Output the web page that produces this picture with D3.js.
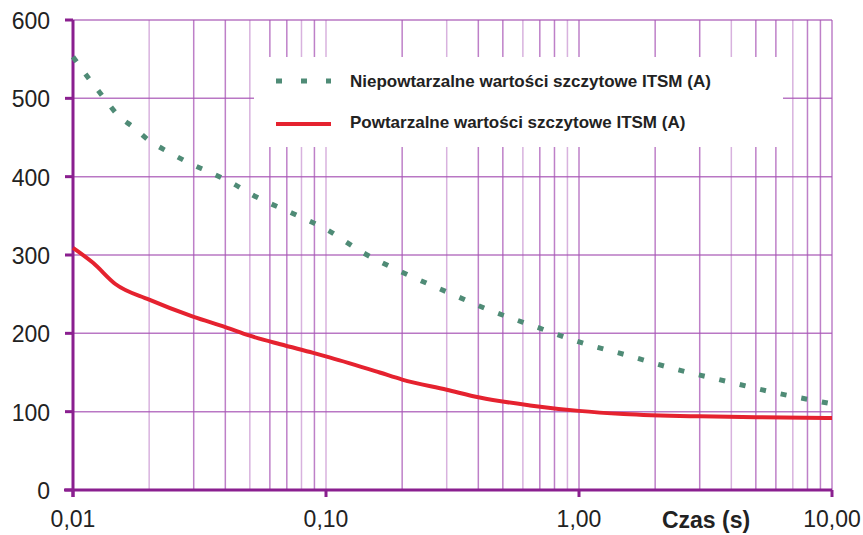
<!DOCTYPE html>
<html>
<head>
<meta charset="utf-8">
<script src="https://cdn.jsdelivr.net/npm/d3@7"></script>
<style>
  body { margin: 0; background: #fff; }
  text { font-family: "Liberation Sans", Arial, sans-serif; fill: #222; }
</style>
</head>
<body>
<div id="chart"></div>
<script>
// Niepowtarzalne (non-repetitive) peak values
const tNon = [0.01, 0.0117, 0.0133, 0.015, 0.0175, 0.02, 0.024, 0.029, 0.035, 0.043, 0.051, 0.074, 0.1, 0.14, 0.2, 0.3, 0.44, 0.68, 1, 1.55, 2.3, 3.8, 5.8, 10];
const iNon = [553, 523, 500, 479, 462, 446, 431, 417, 405, 391, 377, 353, 333, 303, 278, 253, 230, 208, 189, 172, 156, 139, 125, 110];

// Powtarzalne (repetitive) peak values
const tRep = [0.01, 0.012, 0.0147, 0.02, 0.03, 0.04, 0.05, 0.066, 0.089, 0.104, 0.163, 0.2, 0.3, 0.405, 0.64, 1, 1.5, 3, 5, 10];
const iRep = [309, 290, 263, 243, 221, 208, 197, 186, 175, 169, 150, 141, 128, 118, 108, 101, 97, 94, 93, 92];

const yTicks = [0, 100, 200, 300, 400, 500, 600];
const xTicks = [0.01, 0.1, 1, 10];
const xTickLabels = ["0,01", "0,10", "1,00", "10,00"];
const seriesNames = ["Niepowtarzalne wartości szczytowe ITSM (A)", "Powtarzalne wartości szczytowe ITSM (A)"];

const width = 863, height = 535;
const margin = { left: 73, right: 31, top: 20, bottom: 45 };

const svg = d3.select("#chart").append("svg")
    .attr("width", width)
    .attr("height", height);

const x = d3.scaleLog().domain([0.01, 10]).range([margin.left, width - margin.right]);
const y = d3.scaleLinear().domain([0, 600]).range([height - margin.bottom, margin.top]);

const gridColor = "#a855b5";
const axisColor = "#8a1f8f";

// minor vertical grid (2..9 in each decade)
let minor = [];
[0.01, 0.1, 1].forEach(function(d) {
    for (let k = 2; k <= 9; k++) minor.push(d * k);
});
minor = minor.concat([0.1, 1, 10]);

const grid = svg.append("g");
grid.selectAll("line.v")
    .data(minor)
    .enter().append("line")
    .attr("class", "v")
    .attr("x1", d => x(d)).attr("x2", d => x(d))
    .attr("y1", y(600)).attr("y2", y(0))
    .attr("stroke", gridColor)
    .attr("stroke-opacity", (d, i) => (i % 3 == 0 ? 0.45 : 0.75))
    .attr("stroke-width", 1.5);

grid.selectAll("line.h")
    .data(yTicks.filter(d => d > 0))
    .enter().append("line")
    .attr("class", "h")
    .attr("x1", x(0.01)).attr("x2", x(10))
    .attr("y1", d => y(d)).attr("y2", d => y(d))
    .attr("stroke", gridColor)
    .attr("stroke-opacity", 0.8)
    .attr("stroke-width", 1.5);

// axes
svg.append("line")
    .attr("x1", x(0.01)).attr("x2", x(0.01))
    .attr("y1", y(600)).attr("y2", y(0) + 7)
    .attr("stroke", axisColor).attr("stroke-width", 3);
svg.append("line")
    .attr("x1", x(0.01) - 9).attr("x2", x(10))
    .attr("y1", y(0)).attr("y2", y(0))
    .attr("stroke", axisColor).attr("stroke-width", 3);

svg.selectAll("line.ytick")
    .data(yTicks)
    .enter().append("line")
    .attr("x1", x(0.01) - 8).attr("x2", x(0.01))
    .attr("y1", d => y(d)).attr("y2", d => y(d))
    .attr("stroke", axisColor).attr("stroke-width", 3);

svg.selectAll("line.xtick")
    .data(xTicks)
    .enter().append("line")
    .attr("x1", d => x(d)).attr("x2", d => x(d))
    .attr("y1", y(0)).attr("y2", y(0) + 7)
    .attr("stroke", axisColor).attr("stroke-width", 3);

svg.selectAll("text.ylab")
    .data(yTicks)
    .enter().append("text")
    .attr("x", 50)
    .attr("y", d => y(d) + 9)
    .attr("text-anchor", "end")
    .style("font-size", "23px")
    .text(d => d);

svg.selectAll("text.xlab")
    .data(xTicks)
    .enter().append("text")
    .attr("x", d => x(d))
    .attr("y", 527)
    .attr("text-anchor", "middle")
    .style("font-size", "23px")
    .text((d, i) => xTickLabels[i]);

svg.append("text")
    .attr("x", 706)
    .attr("y", 528)
    .attr("text-anchor", "middle")
    .style("font-size", "23px")
    .style("font-weight", "bold")
    .text("Czas (s)");

// legend box (white, covers grid)
svg.append("rect")
    .attr("x", 254).attr("y", 57)
    .attr("width", 529).attr("height", 90)
    .attr("fill", "#fff");

// series
const line = d3.line()
    .x(d => x(d[0]))
    .y(d => y(d[1]))
    .curve(d3.curveMonotoneX);

svg.append("path")
    .datum(tNon.map((t, i) => [t, iNon[i]]))
    .attr("d", line)
    .attr("fill", "none")
    .attr("stroke", "#4f8b76")
    .attr("stroke-width", 5)
    .attr("stroke-dasharray", "6,15");

svg.append("path")
    .datum(tRep.map((t, i) => [t, iRep[i]]))
    .attr("d", line)
    .attr("fill", "none")
    .attr("stroke", "#e5222f")
    .attr("stroke-width", 4);

// legend contents
svg.append("line")
    .attr("x1", 276).attr("x2", 331)
    .attr("y1", 81).attr("y2", 81)
    .attr("stroke", "#4f8b76").attr("stroke-width", 5)
    .attr("stroke-dasharray", "6,19");
svg.append("line")
    .attr("x1", 276).attr("x2", 331)
    .attr("y1", 124).attr("y2", 124)
    .attr("stroke", "#e5222f").attr("stroke-width", 4);

svg.selectAll("text.leg")
    .data(seriesNames)
    .enter().append("text")
    .attr("x", 350)
    .attr("y", (d, i) => 87 + i * 41)
    .style("font-size", "17px")
    .style("font-weight", "bold")
    .text(d => d);
</script>
</body>
</html>
